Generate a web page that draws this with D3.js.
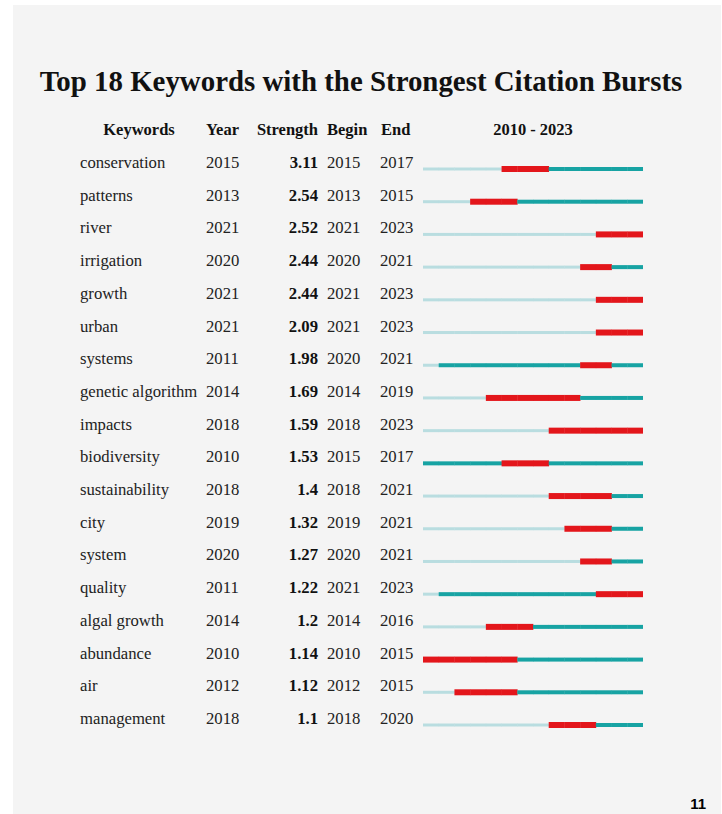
<!DOCTYPE html>
<html><head><meta charset="utf-8">
<script src="https://cdn.jsdelivr.net/npm/d3@7"></script>
<style>html,body{margin:0;padding:0;background:#fff;}svg{display:block;}</style>
</head><body>
<svg id="c" width="722" height="814"></svg>
<script>
const keywords = ["conservation","patterns","river","irrigation","growth","urban","systems","genetic algorithm","impacts","biodiversity","sustainability","city","system","quality","algal growth","abundance","air","management"];
const years = [2015,2013,2021,2020,2021,2021,2011,2014,2018,2010,2018,2019,2020,2011,2014,2010,2012,2018];
const strengths = ["3.11","2.54","2.52","2.44","2.44","2.09","1.98","1.69","1.59","1.53","1.4","1.32","1.27","1.22","1.2","1.14","1.12","1.1"];
const begins = [2015,2013,2021,2020,2021,2021,2020,2014,2018,2015,2018,2019,2020,2021,2014,2010,2012,2018];
const ends = [2017,2015,2023,2021,2023,2023,2021,2019,2023,2017,2021,2021,2021,2023,2016,2015,2015,2020];
const headers = ["Keywords","Year","Strength","Begin","End"];
const titleText = "Top 18 Keywords with the Strongest Citation Bursts";
const rangeStart = 2010, rangeEnd = 2023;

const svg = d3.select("#c");
const serif = "'Liberation Serif','Times New Roman',serif";
svg.append("rect").attr("x",13).attr("y",5).attr("width",708).attr("height",809).attr("fill","#f4f4f4");

const x = d3.scaleLinear().domain([rangeStart, rangeEnd+1]).range([423, 643]);
const y = d3.scaleLinear().domain([0, keywords.length-1]).range([168, 724]);

// title
const t = svg.append("text").attr("x",361).attr("y",91).attr("text-anchor","middle")
  .attr("font-family",serif).attr("font-weight","bold").attr("font-size",28).attr("fill","#111").text(titleText);
const w = t.node().getComputedTextLength();
t.attr("font-size", 28*643/w);

// headers
const hx = [{x:139,a:"middle"},{x:206,a:"start"},{x:318,a:"end"},{x:327,a:"start"},{x:381,a:"start"}];
const hg = svg.append("g").attr("font-family",serif).attr("font-weight","bold").attr("font-size",16.5).attr("fill","#111");
headers.forEach((h,i)=>hg.append("text").attr("x",hx[i].x).attr("y",135).attr("text-anchor",hx[i].a).text(h));
hg.append("text").attr("x",x((rangeStart+rangeEnd+1)/2)).attr("y",135).attr("text-anchor","middle").text(rangeStart+" - "+rangeEnd);

// rows
const rows = svg.append("g").selectAll("g").data(keywords).join("g")
  .attr("transform",(d,i)=>`translate(0,${y(i)})`);
const fs = 16.7;
rows.append("text").attr("x",80).attr("y",0).attr("font-family",serif).attr("font-size",fs).attr("fill","#222").text(d=>d);
rows.append("text").attr("x",206).attr("y",0).attr("font-family",serif).attr("font-size",fs).attr("fill","#222").text((d,i)=>years[i]);
rows.append("text").attr("x",318).attr("y",0).attr("text-anchor","end").attr("font-family",serif).attr("font-weight","bold").attr("font-size",fs).attr("fill","#111").text((d,i)=>strengths[i]);
rows.append("text").attr("x",327).attr("y",0).attr("font-family",serif).attr("font-size",fs).attr("fill","#222").text((d,i)=>begins[i]);
rows.append("text").attr("x",380).attr("y",0).attr("font-family",serif).attr("font-size",fs).attr("fill","#222").text((d,i)=>ends[i]);

const yearList = d3.range(rangeStart, rangeEnd+1);
rows.each(function(d,i){
  const g = d3.select(this);
  yearList.forEach(yr=>{
    let fill, h;
    if (yr >= begins[i] && yr <= ends[i]) { fill="#e3161b"; h=6; }
    else if (yr >= years[i]) { fill="#17a3a3"; h=4; }
    else { fill="#b9dde0"; h=3; }
    const extra = yr < rangeEnd ? 0.35 : 0;
    g.append("rect").attr("x",x(yr)).attr("y",1-h/2).attr("width",x(yr+1)-x(yr)+extra).attr("height",h).attr("fill",fill);
  });
});

svg.append("text").attr("x",706).attr("y",809).attr("text-anchor","end").attr("font-family","'Liberation Sans',Arial,sans-serif")
  .attr("font-weight","bold").attr("font-size",15).attr("fill","#000").text("11");
</script>
</body></html>
